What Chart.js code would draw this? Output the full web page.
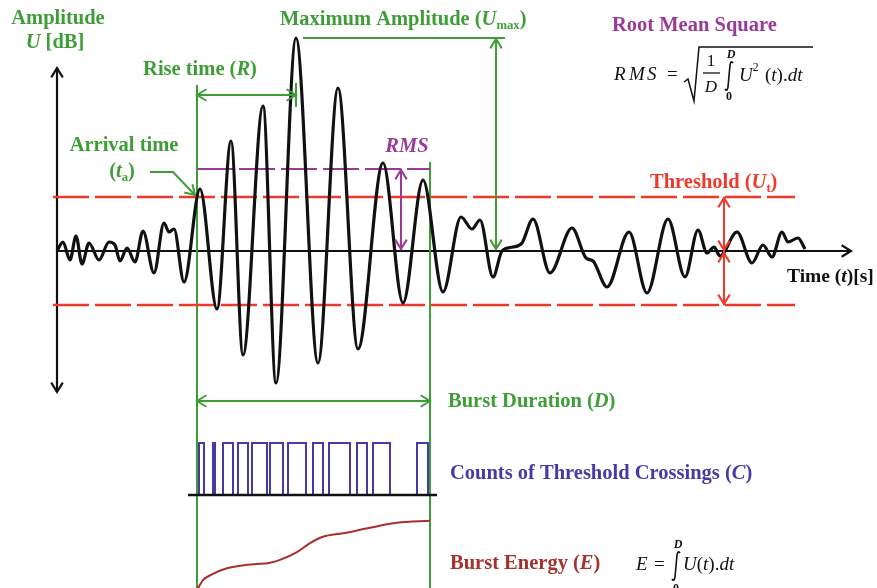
<!DOCTYPE html>
<html>
<head>
<meta charset="utf-8">
<script src="https://cdn.jsdelivr.net/npm/chart.js@4.4.0/dist/chart.umd.min.js"></script>
<style>
html, body { margin: 0; padding: 0; background: #fff; }
#wrap { width: 877px; height: 588px; position: relative; }
</style>
</head>
<body>
<div id="wrap"><canvas id="burstChart"></canvas></div>
<script>
// acoustic emission burst (time in arbitrary units, U relative to baseline)
const waveTime = [57, 63, 70, 76, 82, 89, 99, 109, 115, 120, 127, 135, 143, 154, 164, 169, 174, 184,
    200, 217, 231, 243, 263, 276, 296, 318, 338, 358, 383, 403, 423, 443, 461, 472, 480, 493,
    502, 513, 522, 533, 550, 572, 586, 593, 607, 629, 647, 668, 685, 698, 707, 714, 720, 737,
    752, 763, 772, 782, 788, 798, 805];
const waveU = [0, 9, -9, 15, -13, 8, -9, 9, 6, -10, 3, -11, 20, -22, 28, 19, 22, -31,
    62, -58, 110, -104, 145, -132, 213, -112, 163, -98, 88, -52, 71, -41, 34, 22, 31, -26,
    0, 4, 8, 32, -22, 23, -7, -10, -36, 19, -42, 32, -26, 21, -2, 4, -5, 19,
    -12, 6, -6, 19, 9, 13, 2];

const threshold = 54;
const rmsLevel = 82;
const maxAmplitude = 213;
const arrivalTime = 197;
const peakTime = 296;
const burstEnd = 430;

// threshold crossing counts (pulse start / end times)
const pulseStart = [199, 213, 223, 238, 252, 270, 288, 313, 329, 357, 373, 417];
const pulseEnd   = [204, 215, 233, 248, 267, 283, 306, 323, 350, 367, 390, 428];

// cumulative burst energy (normalised)
const energyTime  = [197, 203, 213, 227, 247, 270, 280, 297, 310, 323, 343, 370, 397, 430];
const energyValue = [0, 0.14, 0.23, 0.31, 0.36, 0.39, 0.43, 0.54, 0.67, 0.76, 0.81, 0.89, 0.96, 0.99];

const green = '#3f9d38', red = '#ee3a2a', purple = '#993a99', blue = '#443ca4', brown = '#a8302f';

const wavePoints = waveTime.map((t, i) => ({ x: t, y: waveU[i] }));
const pulsePoints = [];
pulseStart.forEach((s, i) => {
    pulsePoints.push({ x: s, y: 0 }, { x: s, y: 1 }, { x: pulseEnd[i], y: 1 }, { x: pulseEnd[i], y: 0 });
});
const energyPoints = energyTime.map((t, i) => ({ x: t, y: energyValue[i] }));

function head(ctx, x, y, ang, len, spread) {
    len = len || 11; spread = spread || 0.55;
    ctx.beginPath();
    ctx.moveTo(x - len * Math.cos(ang - spread), y - len * Math.sin(ang - spread));
    ctx.lineTo(x, y);
    ctx.lineTo(x - len * Math.cos(ang + spread), y - len * Math.sin(ang + spread));
    ctx.stroke();
}

function line(ctx, pts, color, w) {
    ctx.strokeStyle = color; ctx.lineWidth = w;
    ctx.beginPath();
    pts.forEach((p, i) => i ? ctx.lineTo(p[0], p[1]) : ctx.moveTo(p[0], p[1]));
    ctx.stroke();
}

function rich(ctx, segs, x, y, size, color, align) {
    const parts = segs.map(([t, f = '']) => {
        const small = f.includes('s') || f.includes('p');
        const fs = small ? size * 0.62 : size;
        const font = (f.includes('i') ? 'italic ' : '') + (f.includes('n') ? '' : 'bold ') + fs + 'px "Liberation Serif"';
        ctx.font = font;
        return { t, font, w: ctx.measureText(t).width, dy: f.includes('s') ? size * 0.3 : f.includes('p') ? -size * 0.4 : 0 };
    });
    const total = parts.reduce((a, p) => a + p.w, 0);
    let cx = align === 'center' ? x - total / 2 : align === 'right' ? x - total : x;
    ctx.fillStyle = color; ctx.textBaseline = 'middle'; ctx.textAlign = 'left';
    parts.forEach(p => { ctx.font = p.font; ctx.fillText(p.t, cx, y + p.dy); cx += p.w; });
}

// integral sign drawn as a path (font glyph is too short)
function integral(ctx, x, y, h) {
    ctx.strokeStyle = '#111'; ctx.lineWidth = 1.6;
    ctx.beginPath();
    ctx.moveTo(x + 4, y - h / 2 + 2);
    ctx.quadraticCurveTo(x + 2, y - h / 2 - 1, x + 1, y - h / 2 + 4);
    ctx.lineTo(x - 1, y + h / 2 - 4);
    ctx.quadraticCurveTo(x - 2, y + h / 2 + 1, x - 4, y + h / 2 - 2);
    ctx.stroke();
}

const burstParts = {
    id: 'burstParts',
    beforeDatasetsDraw(chart) {
        const ctx = chart.ctx, sx = chart.scales.x, sy = chart.scales.y;
        const x0 = sx.getPixelForValue(waveTime[0]), yb = sy.getPixelForValue(0);
        ctx.save();
        // axes
        line(ctx, [[x0, 68], [x0, 392]], '#111', 2.2);
        head(ctx, x0, 68, -Math.PI / 2);
        head(ctx, x0, 392, Math.PI / 2);
        line(ctx, [[x0, yb], [851, yb]], '#111', 2.2);
        head(ctx, 851, yb, 0);
        // arrival / end of burst lines
        const xa = sx.getPixelForValue(arrivalTime), xe = sx.getPixelForValue(burstEnd);
        line(ctx, [[xa, 85], [xa, 588]], green, 2);
        line(ctx, [[xe, sy.getPixelForValue(rmsLevel) - 7], [xe, 588]], green, 2);
        ctx.restore();
    },
    afterDatasetsDraw(chart) {
        const ctx = chart.ctx, sx = chart.scales.x, sy = chart.scales.y;
        const px = v => sx.getPixelForValue(v), py = v => sy.getPixelForValue(v);
        const yb = py(0);
        ctx.save();
        ctx.lineCap = 'butt';

        // rise time
        const xa = px(arrivalTime), xp = px(peakTime), xe = px(burstEnd);
        line(ctx, [[xa, 95], [xp, 95]], green, 2);
        head(ctx, xa, 95, Math.PI); head(ctx, xp, 95, 0);
        line(ctx, [[xp, 83], [xp, 107]], green, 2);

        // maximum amplitude
        const yMax = py(maxAmplitude);
        line(ctx, [[303, yMax], [505, yMax]], green, 2.2);
        line(ctx, [[px(496), yMax], [px(496), yb - 1]], green, 2);
        head(ctx, px(496), yMax + 1, -Math.PI / 2); head(ctx, px(496), yb - 2, Math.PI / 2);

        // arrival arrow
        line(ctx, [[150, 172], [173, 172], [195, 195]], green, 2);
        head(ctx, 195, 195, Math.PI / 4);

        // burst duration
        line(ctx, [[xa, 401], [xe, 401]], green, 2);
        head(ctx, xa, 401, Math.PI); head(ctx, xe, 401, 0);

        // rms arrow
        const yr = py(rmsLevel);
        line(ctx, [[px(401), yr], [px(401), yb - 1]], purple, 2);
        head(ctx, px(401), yr + 1, -Math.PI / 2); head(ctx, px(401), yb - 2, Math.PI / 2);

        // threshold arrows
        const yt = py(threshold), ytl = py(-threshold), xt = px(724);
        line(ctx, [[xt, yt], [xt, ytl]], red, 2);
        head(ctx, xt, yt + 1, -Math.PI / 2); head(ctx, xt, yb - 1, Math.PI / 2);
        head(ctx, xt, yb + 2, -Math.PI / 2); head(ctx, xt, ytl - 1, Math.PI / 2);

        // labels
        const fs = 20.5;
        rich(ctx, [['Amplitude']], 58, 19, fs, green, 'center');
        rich(ctx, [['U', 'i'], [' [dB]']], 55, 43, fs, green, 'center');
        rich(ctx, [['Maximum Amplitude ('], ['U', 'i'], ['max', 's'], [')']], 280, 20, fs, green, 'left');
        rich(ctx, [['Rise time ('], ['R', 'i'], [')']], 200, 70, fs, green, 'center');
        rich(ctx, [['Arrival time']], 124, 146, fs, green, 'center');
        rich(ctx, [['('], ['t', 'i'], ['a', 's'], [')']], 122, 172, fs, green, 'center');
        rich(ctx, [['RMS', 'i']], 407, 147, fs, purple, 'center');
        rich(ctx, [['Root Mean Square']], 612, 26, fs, purple, 'left');
        rich(ctx, [['Threshold ('], ['U', 'i'], ['t', 's'], [')']], 650, 183, fs, red, 'left');
        rich(ctx, [['Time ('], ['t', 'i'], [')[s]']], 787, 277, 19.5, '#111', 'left');
        rich(ctx, [['Burst Duration ('], ['D', 'i'], [')']], 448, 402, fs, green, 'left');
        rich(ctx, [['Counts of Threshold Crossings ('], ['C', 'i'], [')']], 450, 474, fs, blue, 'left');
        rich(ctx, [['Burst Energy ('], ['E', 'i'], [')']], 450, 564, fs, brown, 'left');

        // RMS formula
        const k = '#111';
        ['R', 'M', 'S'].forEach((c, i) => rich(ctx, [[c, 'in']], 614 + [0, 15, 33][i], 75, 19, k, 'left'));
        rich(ctx, [['=', 'n']], 667, 75, 19, k, 'left');
        line(ctx, [[684, 82], [688, 79], [694, 101], [699, 47], [813, 47]], k, 1.5);
        rich(ctx, [['1', 'n']], 711, 62, 17, k, 'center');
        line(ctx, [[703, 73], [720, 73]], k, 1.3);
        rich(ctx, [['D', 'in']], 711, 88, 17, k, 'center');
        integral(ctx, 729, 76, 30);
        rich(ctx, [['D', 'i']], 731, 55, 12, k, 'center');
        rich(ctx, [['0']], 729, 97, 12, k, 'center');
        rich(ctx, [['U', 'in'], ['2', 'pn']], 739, 76, 19, k, 'left');
        rich(ctx, [['(', 'n'], ['t', 'in'], [').', 'n'], ['dt', 'in']], 765, 76, 19, k, 'left');

        // energy formula
        rich(ctx, [['E', 'in']], 636, 565, 19, k, 'left');
        rich(ctx, [['=', 'n']], 654, 565, 19, k, 'left');
        integral(ctx, 676, 566, 30);
        rich(ctx, [['D', 'i']], 678, 545, 12, k, 'center');
        rich(ctx, [['0']], 676, 589, 12, k, 'center');
        rich(ctx, [['U', 'in'], ['(', 'n'], ['t', 'in'], [').', 'n'], ['dt', 'in']], 683, 565, 19, k, 'left');
        ctx.restore();
    }
};

new Chart(document.getElementById('burstChart'), {
    type: 'line',
    data: {
        datasets: [{
            label: 'Amplitude',
            data: wavePoints,
            borderColor: '#111',
            borderWidth: 3.2,
            pointRadius: 0,
            cubicInterpolationMode: 'monotone',
            yAxisID: 'y'
        }, {
            label: 'Counts baseline',
            data: [{ x: 188, y: 0 }, { x: 437, y: 0 }],
            borderColor: '#111',
            borderWidth: 2.5,
            pointRadius: 0,
            yAxisID: 'yC'
        }, {
            label: 'Counts',
            data: pulsePoints,
            borderColor: blue,
            borderWidth: 2,
            pointRadius: 0,
            tension: 0,
            yAxisID: 'yC'
        }, {
            label: 'Energy',
            data: energyPoints,
            borderColor: brown,
            borderWidth: 2,
            pointRadius: 0,
            cubicInterpolationMode: 'monotone',
            yAxisID: 'yE'
        }, {
            label: 'Threshold +',
            data: [{ x: 53, y: threshold }, { x: 795, y: threshold }],
            borderColor: red,
            borderWidth: 2.5,
            borderDash: [36, 6],
            pointRadius: 0,
            yAxisID: 'y'
        }, {
            label: 'Threshold -',
            data: [{ x: 53, y: -threshold }, { x: 795, y: -threshold }],
            borderColor: red,
            borderWidth: 2.5,
            borderDash: [36, 6],
            pointRadius: 0,
            yAxisID: 'y'
        }, {
            label: 'RMS',
            data: [{ x: arrivalTime, y: rmsLevel }, { x: burstEnd, y: rmsLevel }],
            borderColor: purple,
            borderWidth: 2.2,
            borderDash: [36, 6],
            pointRadius: 0,
            yAxisID: 'y'
        }]
    },
    options: {
        responsive: true,
        maintainAspectRatio: false,
        animation: false,
        events: [],
        layout: { padding: 0 },
        plugins: { legend: { display: false }, tooltip: { enabled: false } },
        scales: {
            x: { type: 'linear', min: 0, max: 877, display: false },
            y: { min: -337, max: 251, display: false },
            yC: { min: -1.788, max: 9.519, display: false },
            yE: { min: 0.0286, max: 8.4286, display: false }
        }
    },
    plugins: [burstParts]
});
</script>
</body>
</html>
